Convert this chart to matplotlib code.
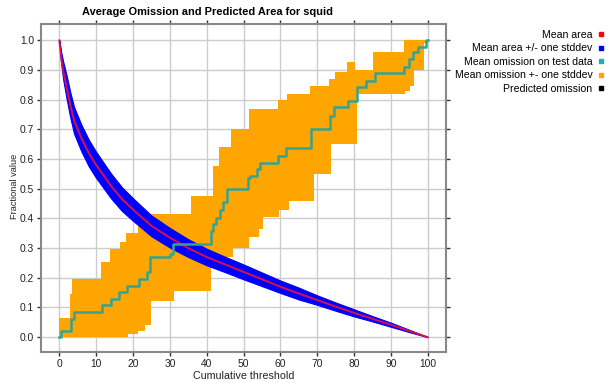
import numpy as np
import matplotlib
matplotlib.use("Agg")
import matplotlib.pyplot as plt
from matplotlib.lines import Line2D

plt.rcParams['font.family'] = ['Liberation Sans', 'DejaVu Sans']

# mean predicted area (cumulative threshold -> fraction)
area_x = [0, 0.5, 1, 2, 3, 4, 5, 6, 8, 10, 12, 14, 17, 20, 25, 30, 35, 40, 45,
          50, 55, 60, 65, 70, 75, 80, 85, 90, 95, 100]
area_y = [1.0, 0.94, 0.90, 0.84, 0.78, 0.73, 0.70, 0.67, 0.62, 0.58, 0.545, 0.51,
          0.465, 0.43, 0.375, 0.335, 0.30, 0.27, 0.245, 0.22, 0.195, 0.17, 0.147,
          0.125, 0.103, 0.082, 0.062, 0.042, 0.021, 0.0]
area_sd = [0.0, 0.02, 0.03, 0.04, 0.043, 0.045, 0.045, 0.045, 0.045, 0.044, 0.043,
           0.042, 0.04, 0.038, 0.035, 0.033, 0.03, 0.028, 0.026, 0.025, 0.023, 0.021,
           0.02, 0.016, 0.014, 0.012, 0.009, 0.007, 0.004, 0.0]

# mean omission on test data (step function)
om_x = [0, 0.3, 3.1, 4.0, 11.6, 13.9, 16.2, 18.4, 21.6, 23.8, 24.7, 30.0, 30.9,
        41.2, 41.8, 42.6, 43.5, 44.5, 45.6, 51.2, 51.8, 53.6, 54.4, 59.3, 61.5,
        68.4, 73.4, 74.7, 78.4, 80.9, 83.2, 85.6, 93.7, 95.0, 96.1, 97.4, 99.5, 100]
om_y = [0.0, 0.02, 0.062, 0.084, 0.107, 0.129, 0.152, 0.174, 0.197, 0.219, 0.27,
        0.28, 0.314, 0.359, 0.38, 0.403, 0.43, 0.454, 0.498, 0.537, 0.543, 0.566,
        0.588, 0.61, 0.636, 0.70, 0.747, 0.775, 0.797, 0.842, 0.865, 0.89, 0.91,
        0.938, 0.96, 0.977, 1.0, 1.0]

# omission +- one stddev (step edges)
up_x = [0, 2.9, 3.5, 11.4, 13.7, 16.4, 18.2, 21.4, 24.5, 35.8, 41.6, 43.4, 46.6,
        51.5, 59.3, 61.8, 68.1, 73.1, 74.9, 78.1, 80.4, 85.3, 93.5]
up_y = [0.064, 0.146, 0.197, 0.253, 0.298, 0.32, 0.35, 0.382, 0.415, 0.476, 0.576,
        0.64, 0.70, 0.77, 0.80, 0.82, 0.848, 0.87, 0.893, 0.927, 0.90, 0.96, 1.0]
lo_x = [0, 18.6, 21.4, 23.2, 25.0, 31.0, 41.3, 44.0, 45.3, 47.1, 51.6, 54.3, 55.2,
        59.7, 62.4, 69.2, 73.7, 80.8, 93.9, 95.3, 96.2, 98.9]
lo_y = [0.0, 0.012, 0.02, 0.04, 0.122, 0.155, 0.235, 0.25, 0.27, 0.30, 0.338, 0.366,
        0.405, 0.43, 0.46, 0.55, 0.65, 0.82, 0.83, 0.845, 0.9, 0.99]

legend_labels = ['Mean area', 'Mean area +/- one stddev', 'Mean omission on test data',
                 'Mean omission +- one stddev', 'Predicted omission']
legend_colors = ['#ff0000', '#0000ff', '#20b2aa', '#ffa500', '#000000']

fig = plt.figure(figsize=(6.1, 3.83), dpi=100)
ax = fig.add_axes([0.0672, 0.081, 0.664, 0.856])

# orange band
edges = np.union1d(up_x, lo_x)
edges = np.append(edges, 100)
hi = np.array(up_y)[np.searchsorted(up_x, edges, side='right') - 1]
lo = np.array(lo_y)[np.searchsorted(lo_x, edges, side='right') - 1]
ax.fill_between(edges, lo, hi, step='post', color='#ffa500', lw=0, zorder=2)

# blue band and red mean
ax_ = np.array(area_x)
ay = np.array(area_y)
sd = np.array(area_sd)
ax.fill_between(ax_, ay - sd, ay + sd, color='#0000ff', lw=0.8, edgecolor='#0000ff', zorder=3)
ax.plot(ax_, ay, color='#d8104a', lw=1.4, zorder=4)

ax.step(om_x, om_y, where='post', color='#35a38f', lw=1.8, zorder=5)

ax.set_xlim(-5, 105)
ax.set_ylim(-0.05, 1.055)
ax.set_xticks(np.arange(0, 101, 10))
ax.set_yticks(np.arange(0, 1.01, 0.1))
ax.set_yticklabels(['%.1f' % v for v in np.arange(0, 1.01, 0.1)])
ax.grid(True, color='#cccccc', lw=1.0, zorder=0)
ax.set_axisbelow(True)
ax.tick_params(direction='out', length=3, width=1, colors='#333333',
               labelsize=7.4, top=True, right=True, pad=2)
ax.tick_params(labelcolor='#222222')
for s in ax.spines.values():
    s.set_color('#888888')
    s.set_linewidth(1.5)

ax.set_xlabel('Cumulative threshold', fontsize=7.7, labelpad=1.5, color='#222222')
fig.text(0.024, 0.513, 'Fractional value', rotation=90, fontsize=6.6,
         ha='center', va='center', color='#222222')
fig.text(208 / 610, 1 - 12 / 383, 'Average Omission and Predicted Area for squid',
         fontsize=7.9, fontweight='bold', ha='center', va='center')

handles = [Line2D([], [], marker='s', ls='', color=c, markersize=3.5) for c in legend_colors]
leg = fig.legend(handles, legend_labels, loc='upper right', bbox_to_anchor=(0.997, 0.933),
                 frameon=False, markerfirst=False, fontsize=7.6, handlelength=0.6,
                 handletextpad=0.5, labelspacing=0.33, borderaxespad=0)

fig.savefig('out.png', dpi=100)
